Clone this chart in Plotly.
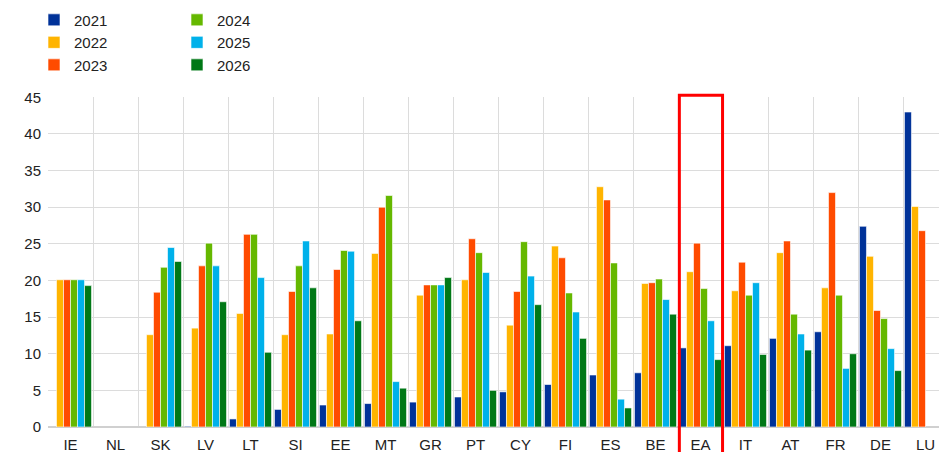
import plotly.graph_objects as go

countries = ["IE", "NL", "SK", "LV", "LT", "SI", "EE", "MT", "GR", "PT",
             "CY", "FI", "ES", "BE", "EA", "IT", "AT", "FR", "DE", "LU"]

y2021 = [None, None, None, 0.1, 1.1, 2.4, 3.0, 3.2, 3.4, 4.1,
         4.8, 5.8, 7.1, 7.4, 10.8, 11.1, 12.1, 13.0, 27.4, 43.0]
y2022 = [20.1, None, 12.6, 13.5, 15.5, 12.6, 12.7, 23.7, 18.0, 20.1,
         13.9, 24.7, 32.8, 19.6, 21.2, 18.6, 23.8, 19.0, 23.3, 30.1]
y2023 = [20.1, None, 18.4, 22.0, 26.3, 18.5, 21.5, 30.0, 19.4, 25.7,
         18.5, 23.1, 31.0, 19.7, 25.1, 22.5, 25.4, 32.0, 15.9, 26.8]
y2024 = [20.1, None, 21.8, 25.1, 26.3, 22.0, 24.1, 31.6, 19.4, 23.8,
         25.3, 18.3, 22.4, 20.2, 18.9, 18.0, 15.4, 18.0, 14.8, None]
y2025 = [20.1, None, 24.5, 22.0, 20.4, 25.4, 24.0, 6.2, 19.4, 21.1,
         20.6, 15.7, 3.8, 17.4, 14.5, 19.7, 12.7, 8.0, 10.7, None]
y2026 = [19.3, None, 22.6, 17.1, 10.2, 19.0, 14.5, 5.3, 20.4, 5.0,
         16.7, 12.1, 2.6, 15.4, 9.2, 9.9, 10.5, 10.0, 7.7, None]

series = [
    ("2021", y2021, "#003299", "legend"),
    ("2022", y2022, "#FFB400", "legend"),
    ("2023", y2023, "#FF4B00", "legend"),
    ("2024", y2024, "#65B800", "legend2"),
    ("2025", y2025, "#00B1EA", "legend2"),
    ("2026", y2026, "#007816", "legend2"),
]

FONT = "Liberation Sans, Arial, sans-serif"
LEG_Y = 1 + (88.7 + 4.7) / 330

fig = go.Figure()
for name, vals, color, leg in series:
    fig.add_trace(go.Bar(
        x=countries, y=vals, name=name, legend=leg,
        marker=dict(color=color, line=dict(color="white", width=0.6)),
    ))

fig.update_layout(
    width=947, height=452,
    margin=dict(l=40, r=7, t=88.7, b=33.3, autoexpand=False),
    paper_bgcolor="white", plot_bgcolor="white",
    barmode="group", bargap=0.065, bargroupgap=0,
    font=dict(family=FONT, size=15, color="#222222"),
    showlegend=True,
    legend=dict(
        xref="container", yref="paper",
        x=26 / 947, y=LEG_Y, xanchor="left", yanchor="top",
        orientation="v", bgcolor="rgba(0,0,0,0)",
        font=dict(family=FONT, size=15, color="#222222"),
        tracegroupgap=0,
    ),
    legend2=dict(
        xref="container", yref="paper",
        x=169 / 947, y=LEG_Y, xanchor="left", yanchor="top",
        orientation="v", bgcolor="rgba(0,0,0,0)",
        font=dict(family=FONT, size=15, color="#222222"),
        tracegroupgap=0,
    ),
    xaxis=dict(
        type="category", tickson="boundaries",
        showgrid=True, gridcolor="#dcdcdc", gridwidth=1,
        ticks="", showline=False, zeroline=False,
        ticklabelstandoff=7,
        tickfont=dict(family=FONT, size=15, color="#222222"),
    ),
    yaxis=dict(
        range=[0, 45.05], tickvals=[0, 5, 10, 15, 20, 25, 30, 35, 40, 45],
        showgrid=True, gridcolor="#dcdcdc", gridwidth=1,
        zeroline=True, zerolinecolor="#d0d0d0", zerolinewidth=1.5,
        ticks="", showline=False,
        ticklabelstandoff=6,
        tickfont=dict(family=FONT, size=15, color="#222222"),
    ),
)

fig.add_shape(
    type="rect", xref="x", yref="paper",
    x0=13.53, x1=14.49, y0=-0.3, y1=1.005,
    line=dict(color="#FF0000", width=3), fillcolor="rgba(0,0,0,0)",
    layer="above",
)

fig.write_html("out.html")
